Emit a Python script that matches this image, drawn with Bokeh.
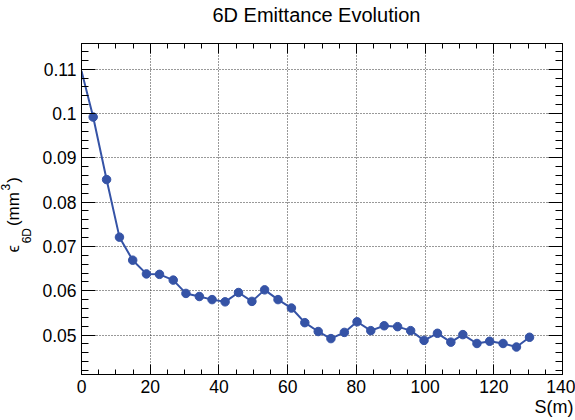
from bokeh.plotting import figure
from bokeh.models import (Range1d, LinearAxis, SingleIntervalTicker,
                          CustomJSTickFormatter, Grid, ColumnDataSource, Title)
from bokeh.embed import file_html
from bokeh.resources import INLINE

# ---- data ----
s_m = [0, 3.4, 7.3, 11.05, 14.9, 18.9, 22.7, 26.7, 30.4, 34.3, 38.0, 41.8,
       45.7, 49.6, 53.3, 57.2, 61.1, 65.0, 68.9, 72.6, 76.5, 80.2, 84.2,
       88.1, 92.0, 95.8, 99.7, 103.6, 107.5, 111.0, 115.1, 118.8, 122.7,
       126.6, 130.4]
emit_6d = [0.1096, 0.0992, 0.0851, 0.0721, 0.0669, 0.0638, 0.0637, 0.0624,
           0.0594, 0.0587, 0.0580, 0.0575, 0.0596, 0.0576, 0.0602, 0.0580,
           0.0561, 0.0528, 0.0508, 0.0492, 0.0506, 0.0530, 0.0510, 0.0521,
           0.0519, 0.0510, 0.0488, 0.0504, 0.0484, 0.0501, 0.0481, 0.0486,
           0.0481, 0.0473, 0.0495]
x_limits = [0, 140]
y_limits = [0.0411, 0.1158]
x_tick_step = 20
y_tick_step = 0.01
title_text = "6D Emittance Evolution"
x_title = "S(m)"
NB = "\u00a0"
y_title_main = "\u03f5" + NB * 4 + "(mm" + NB * 2 + ")"
y_title_sub = "6D"
y_title_sup = "3"

FONT = "Liberation Sans"
BLUE = "#3553a6"

p = figure(width=575, height=420, output_backend="svg", toolbar_location=None,
           x_range=Range1d(*x_limits), y_range=Range1d(*y_limits),
           x_axis_type=None, y_axis_type=None, title_location=None,
           min_border_left=81, min_border_right=13,
           min_border_top=41, min_border_bottom=46)
p.outline_line_color = "black"
p.outline_line_width = 1
p.background_fill_color = "white"
p.border_fill_color = "white"

xt = SingleIntervalTicker(interval=x_tick_step, num_minor_ticks=4)
yt = SingleIntervalTicker(interval=y_tick_step, num_minor_ticks=5)
yfmt = CustomJSTickFormatter(code="return String(Math.round(tick*100)/100);")
blank = CustomJSTickFormatter(code="return '';")


def style(ax, tin, minin, size, standoff):
    ax.major_tick_in = tin
    ax.major_tick_out = 0
    ax.minor_tick_in = minin
    ax.minor_tick_out = 0
    ax.axis_line_color = "black"
    ax.major_tick_line_color = "black"
    ax.minor_tick_line_color = "black"
    ax.major_label_text_font = FONT
    ax.major_label_text_font_size = size
    ax.major_label_text_color = "black"
    ax.major_label_standoff = standoff


def axis_title(ax, text, size, standoff):
    ax.axis_label = text
    ax.axis_label_text_font = FONT
    ax.axis_label_text_font_size = size
    ax.axis_label_text_font_style = "normal"
    ax.axis_label_text_color = "black"
    ax.axis_label_standoff = standoff


xb = LinearAxis(ticker=xt)
style(xb, 10, 5, "17.5px", 5)
p.add_layout(xb, "below")

xa = LinearAxis(ticker=xt, formatter=blank)
style(xa, 10, 5, "1px", 0)
axis_title(xa, title_text + NB * 2, "20px", 18)
p.add_layout(xa, "above")

yl = LinearAxis(ticker=yt, formatter=yfmt)
style(yl, 14, 7, "17.5px", 5)
axis_title(yl, y_title_sub + NB * 16, "12px", 5)
p.add_layout(yl, "left")

yr = LinearAxis(ticker=yt, formatter=blank)
style(yr, 14, 7, "1px", 0)
p.add_layout(yr, "right")

for dim, tk in ((0, xt), (1, yt)):
    g = Grid(dimension=dim, ticker=tk)
    g.grid_line_color = "#333333"
    g.grid_line_dash = "1 2"
    g.grid_line_width = 1
    p.add_layout(g)

src = ColumnDataSource(dict(x=s_m, y=emit_6d))
mk = ColumnDataSource(dict(x=s_m[1:], y=emit_6d[1:]))
p.line("x", "y", source=src, line_color=BLUE, line_width=2)
p.scatter("x", "y", source=mk, size=8.5, fill_color=BLUE, line_color=BLUE,
          marker="circle")


def side_title(text, size, align, valign, offset, standoff, where):
    t = Title(text=text, align=align, vertical_align=valign, offset=offset,
              standoff=standoff, text_font=FONT, text_font_size=size,
              text_font_style="normal", text_color="black")
    p.add_layout(t, where)


# rest of the y-axis title, from the frame outwards
side_title(y_title_main, "17px", "left", "bottom", 122, -11, "left")
side_title(y_title_sup, "12px", "left", "top", 184, -14, "left")
# x-axis title at the right end
side_title(x_title, "18px", "right", "top", -11, 2, "below")

open("out.html", "w").write(file_html(p, INLINE))
